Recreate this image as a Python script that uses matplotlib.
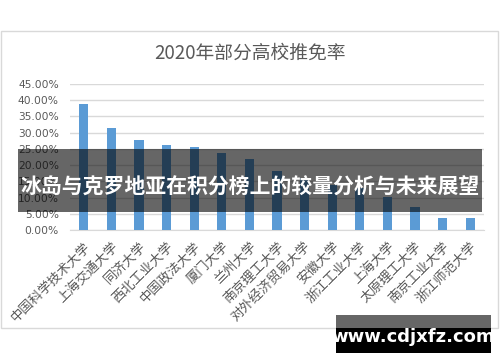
import matplotlib
matplotlib.use("Agg")
import matplotlib.pyplot as plt
from matplotlib.patches import Rectangle
from matplotlib.ticker import FuncFormatter, MultipleLocator

plt.rcParams['font.family'] = ['Noto Sans CJK SC', 'DejaVu Sans']

categories = ["中国科学技术大学", "上海交通大学", "同济大学", "西北工业大学", "中国政法大学",
              "厦门大学", "兰州大学", "南京理工大学", "对外经济贸易大学", "安徽大学",
              "浙江工业大学", "上海大学", "太原理工大学", "南京工业大学", "浙江师范大学"]
rates = [38.8, 31.3, 27.7, 26.1, 25.7, 23.8, 21.8, 18.3, 16.0, 14.0, 12.8, 10.3, 7.2, 3.8, 3.6]

title = "2020年部分高校推免率"
banner = "冰岛与克罗地亚在积分榜上的较量分析与未来展望"
site = "www.cdjxfz.com"

W, H = 500, 362
fig = plt.figure(figsize=(W / 100, H / 100), dpi=100)
fig.patch.set_facecolor('white')

# chart area border
fig.patches.append(Rectangle((1 / W, 1 - 328 / H), 497 / W, 297 / H, transform=fig.transFigure,
                             facecolor='none', edgecolor='#d9d9d9', linewidth=1.0, zorder=-1))

ax = fig.add_axes([70 / W, 1 - 230 / H, 414 / W, 146 / H])
ax.set_facecolor('none')
x = list(range(len(categories)))
ax.bar(x, [r / 100 for r in rates], width=0.33, color='#5b9bd5', zorder=3)
ax.set_xlim(-0.5, len(categories) - 0.5)
ax.set_ylim(0, 0.45)
ax.yaxis.set_major_locator(MultipleLocator(0.05))
ax.yaxis.set_major_formatter(FuncFormatter(lambda v, p: f"{v * 100:.2f}%"))
ax.grid(axis='y', color='#d9d9d9', linewidth=1.0, zorder=0)
for s in ['top', 'right', 'left']:
    ax.spines[s].set_visible(False)
ax.spines['bottom'].set_color('#d9d9d9')
ax.tick_params(axis='both', length=0)
ax.tick_params(axis='y', pad=8, labelsize=7.7, labelcolor='#595959')
for lbl in ax.get_yticklabels():
    lbl.set_family(['DejaVu Sans'])
ax.set_xticks(x)
ax.set_xticklabels(categories, rotation=45, ha='right', va='top', rotation_mode='anchor',
                   fontsize=9.5, color='#595959')
ax.tick_params(axis='x', pad=7)

fig.text(250 / W, 1 - 53 / H, title, ha='center', va='center', fontsize=13.5, color='#595959')

# banner overlay
fig.patches.append(Rectangle((18 / W, 1 - 212 / H), 464 / W, 63 / H, transform=fig.transFigure,
                             facecolor='black', alpha=0.6, edgecolor='none', zorder=10))
fig.text(250 / W, 1 - 186 / H, banner, ha='center', va='center', fontsize=15,
         color='white', fontweight='bold', zorder=11)

# site watermark box
fig.patches.append(Rectangle((336 / W, 1 - 328 / H), 155 / W, 13 / H, transform=fig.transFigure,
                             facecolor='#666666', edgecolor='none', zorder=10))
fig.patches.append(Rectangle((336 / W, 1 - 353 / H), 155 / W, 25 / H, transform=fig.transFigure,
                             facecolor='black', edgecolor='none', zorder=10))
fig.text(413 / W, 1 - 337 / H, site, ha='center', va='center', fontsize=13,
         color='white', fontweight='bold', zorder=11, family=['DejaVu Sans'])

fig.savefig('out.png', dpi=100)
